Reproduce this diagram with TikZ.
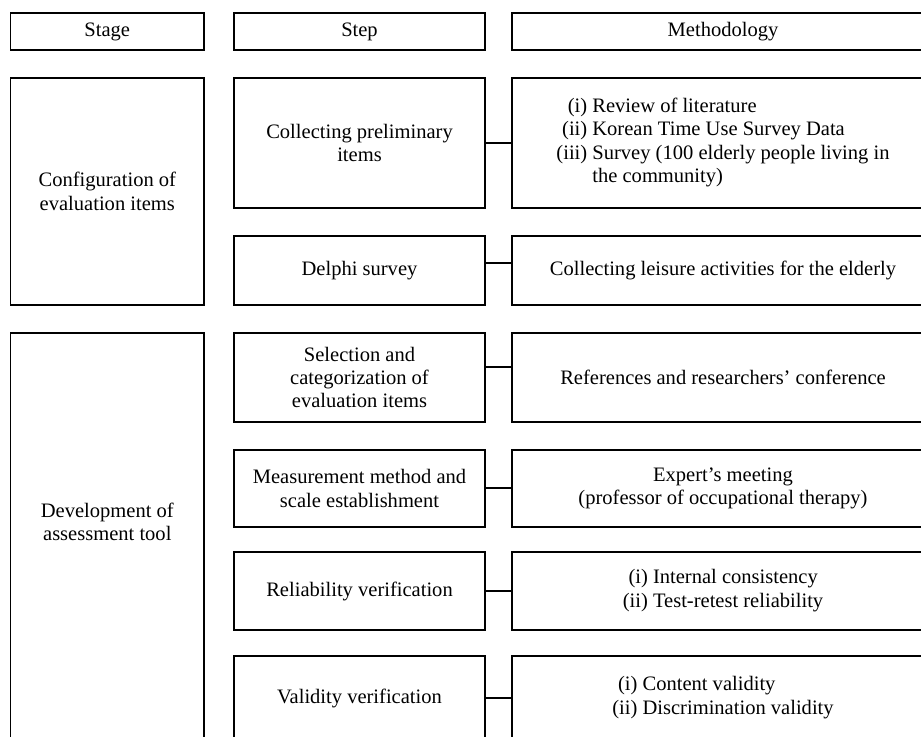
\documentclass[tikz,border=0pt]{standalone}
\usepackage{fontspec}
\setmainfont{Liberation Serif}
\usetikzlibrary{positioning}
\usetikzlibrary{calc}

\tikzset{
  cell/.style={draw, line width=1pt, anchor=north west, align=center,
               inner sep=0pt, outer sep=0pt},
  link/.style={line width=1pt},
}

\begin{document}
\begin{tikzpicture}[x=0.75pt, y=-0.75pt, font=\fontsize{15.4}{17.6}\selectfont]

%---------------------------------------
% Columns (pixel units)
%---------------------------------------
\def\px{0.75pt}
\def\xA{10.6}  \def\wA{193.4}
\def\xB{234}   \def\wB{251}
\def\xC{512}   \def\wC{422}

\useasboundingbox (0,0) rectangle (921,737);
\clip (0,0) rectangle (921,737);

%---------------------------------------
% Header row
%---------------------------------------
\node[cell, minimum width=\wA*\px, minimum height=37*\px] (stage) at (\xA,13) {Stage};
\node[cell, minimum width=\wB*\px, minimum height=37*\px] (step)  at (\xB,13) {Step};
\node[cell, minimum width=\wC*\px, minimum height=37*\px] (meth)  at (\xC,13) {Methodology};

%---------------------------------------
% Configuration of evaluation items
%---------------------------------------
\node[cell, minimum width=\wA*\px, minimum height=227*\px] (config) at (\xA,78)
  {Configuration of\\evaluation items};

% Collecting preliminary items
\node[cell, minimum width=\wB*\px, minimum height=130*\px] (collect) at (\xB,78)
  {Collecting preliminary\\items};
\node[cell, minimum width=\wC*\px, minimum height=130*\px] (prelim) at (\xC,78)
  {\begin{tabular}{@{}r@{\ }l@{}}
     (i)   & Review of literature\\
     (ii)  & Korean Time Use Survey Data\\
     (iii) & Survey (100 elderly people living in\\
           & the community)
   \end{tabular}};

% Delphi survey
\node[cell, minimum width=\wB*\px, minimum height=69*\px] (delphi) at (\xB,236)
  {Delphi survey};
\node[cell, minimum width=\wC*\px, minimum height=69*\px] (leisure) at (\xC,236)
  {Collecting leisure activities for the elderly};

%---------------------------------------
% Development of assessment tool
%---------------------------------------
\node[cell, minimum width=\wA*\px, minimum height=412*\px] (dev) at (\xA,333) {};
\node[align=center, inner sep=0pt] (devtext) at (107.3,522)
  {Development of\\assessment tool};

% Selection and categorization
\node[cell, minimum width=\wB*\px, minimum height=89*\px] (select) at (\xB,333)
  {Selection and\\categorization of\\evaluation items};
\node[cell, minimum width=\wC*\px, minimum height=89*\px] (refs) at (\xC,333)
  {References and researchers' conference};

% Measurement method
\node[cell, minimum width=\wB*\px, minimum height=77*\px] (measure) at (\xB,450)
  {Measurement method and\\scale establishment};
\node[cell, minimum width=\wC*\px, minimum height=77*\px] (expert) at (\xC,450)
  {Expert's meeting\\(professor of occupational therapy)};

% Reliability
\node[cell, minimum width=\wB*\px, minimum height=78*\px] (relia) at (\xB,552)
  {Reliability verification};
\node[cell, minimum width=\wC*\px, minimum height=78*\px] (reltest) at (\xC,552)
  {\begin{tabular}{@{}r@{\ }l@{}}
     (i)  & Internal consistency\\
     (ii) & Test-retest reliability
   \end{tabular}};

% Validity
\node[cell, minimum width=\wB*\px, minimum height=84*\px] (valid) at (\xB,656)
  {Validity verification};
\node[cell, minimum width=\wC*\px, minimum height=84*\px] (valtest) at (\xC,656)
  {\begin{tabular}{@{}r@{\ }l@{}}
     (i)  & Content validity\\
     (ii) & Discrimination validity
   \end{tabular}};

%---------------------------------------
% Links step -- methodology
%---------------------------------------
\draw[link] (collect.east) -- (prelim.west);
\draw[link] ([yshift=7.5*\px]delphi.east) -- ([yshift=7.5*\px]leisure.west);
\draw[link] ([yshift=10.5*\px]select.east) -- ([yshift=10.5*\px]refs.west);
\draw[link] ([yshift=0.5*\px]measure.east) -- ([yshift=0.5*\px]expert.west);
\draw[link] (relia.east) -- (reltest.west);
\draw[link] (valid.east) -- (valtest.west);

\end{tikzpicture}
\end{document}
